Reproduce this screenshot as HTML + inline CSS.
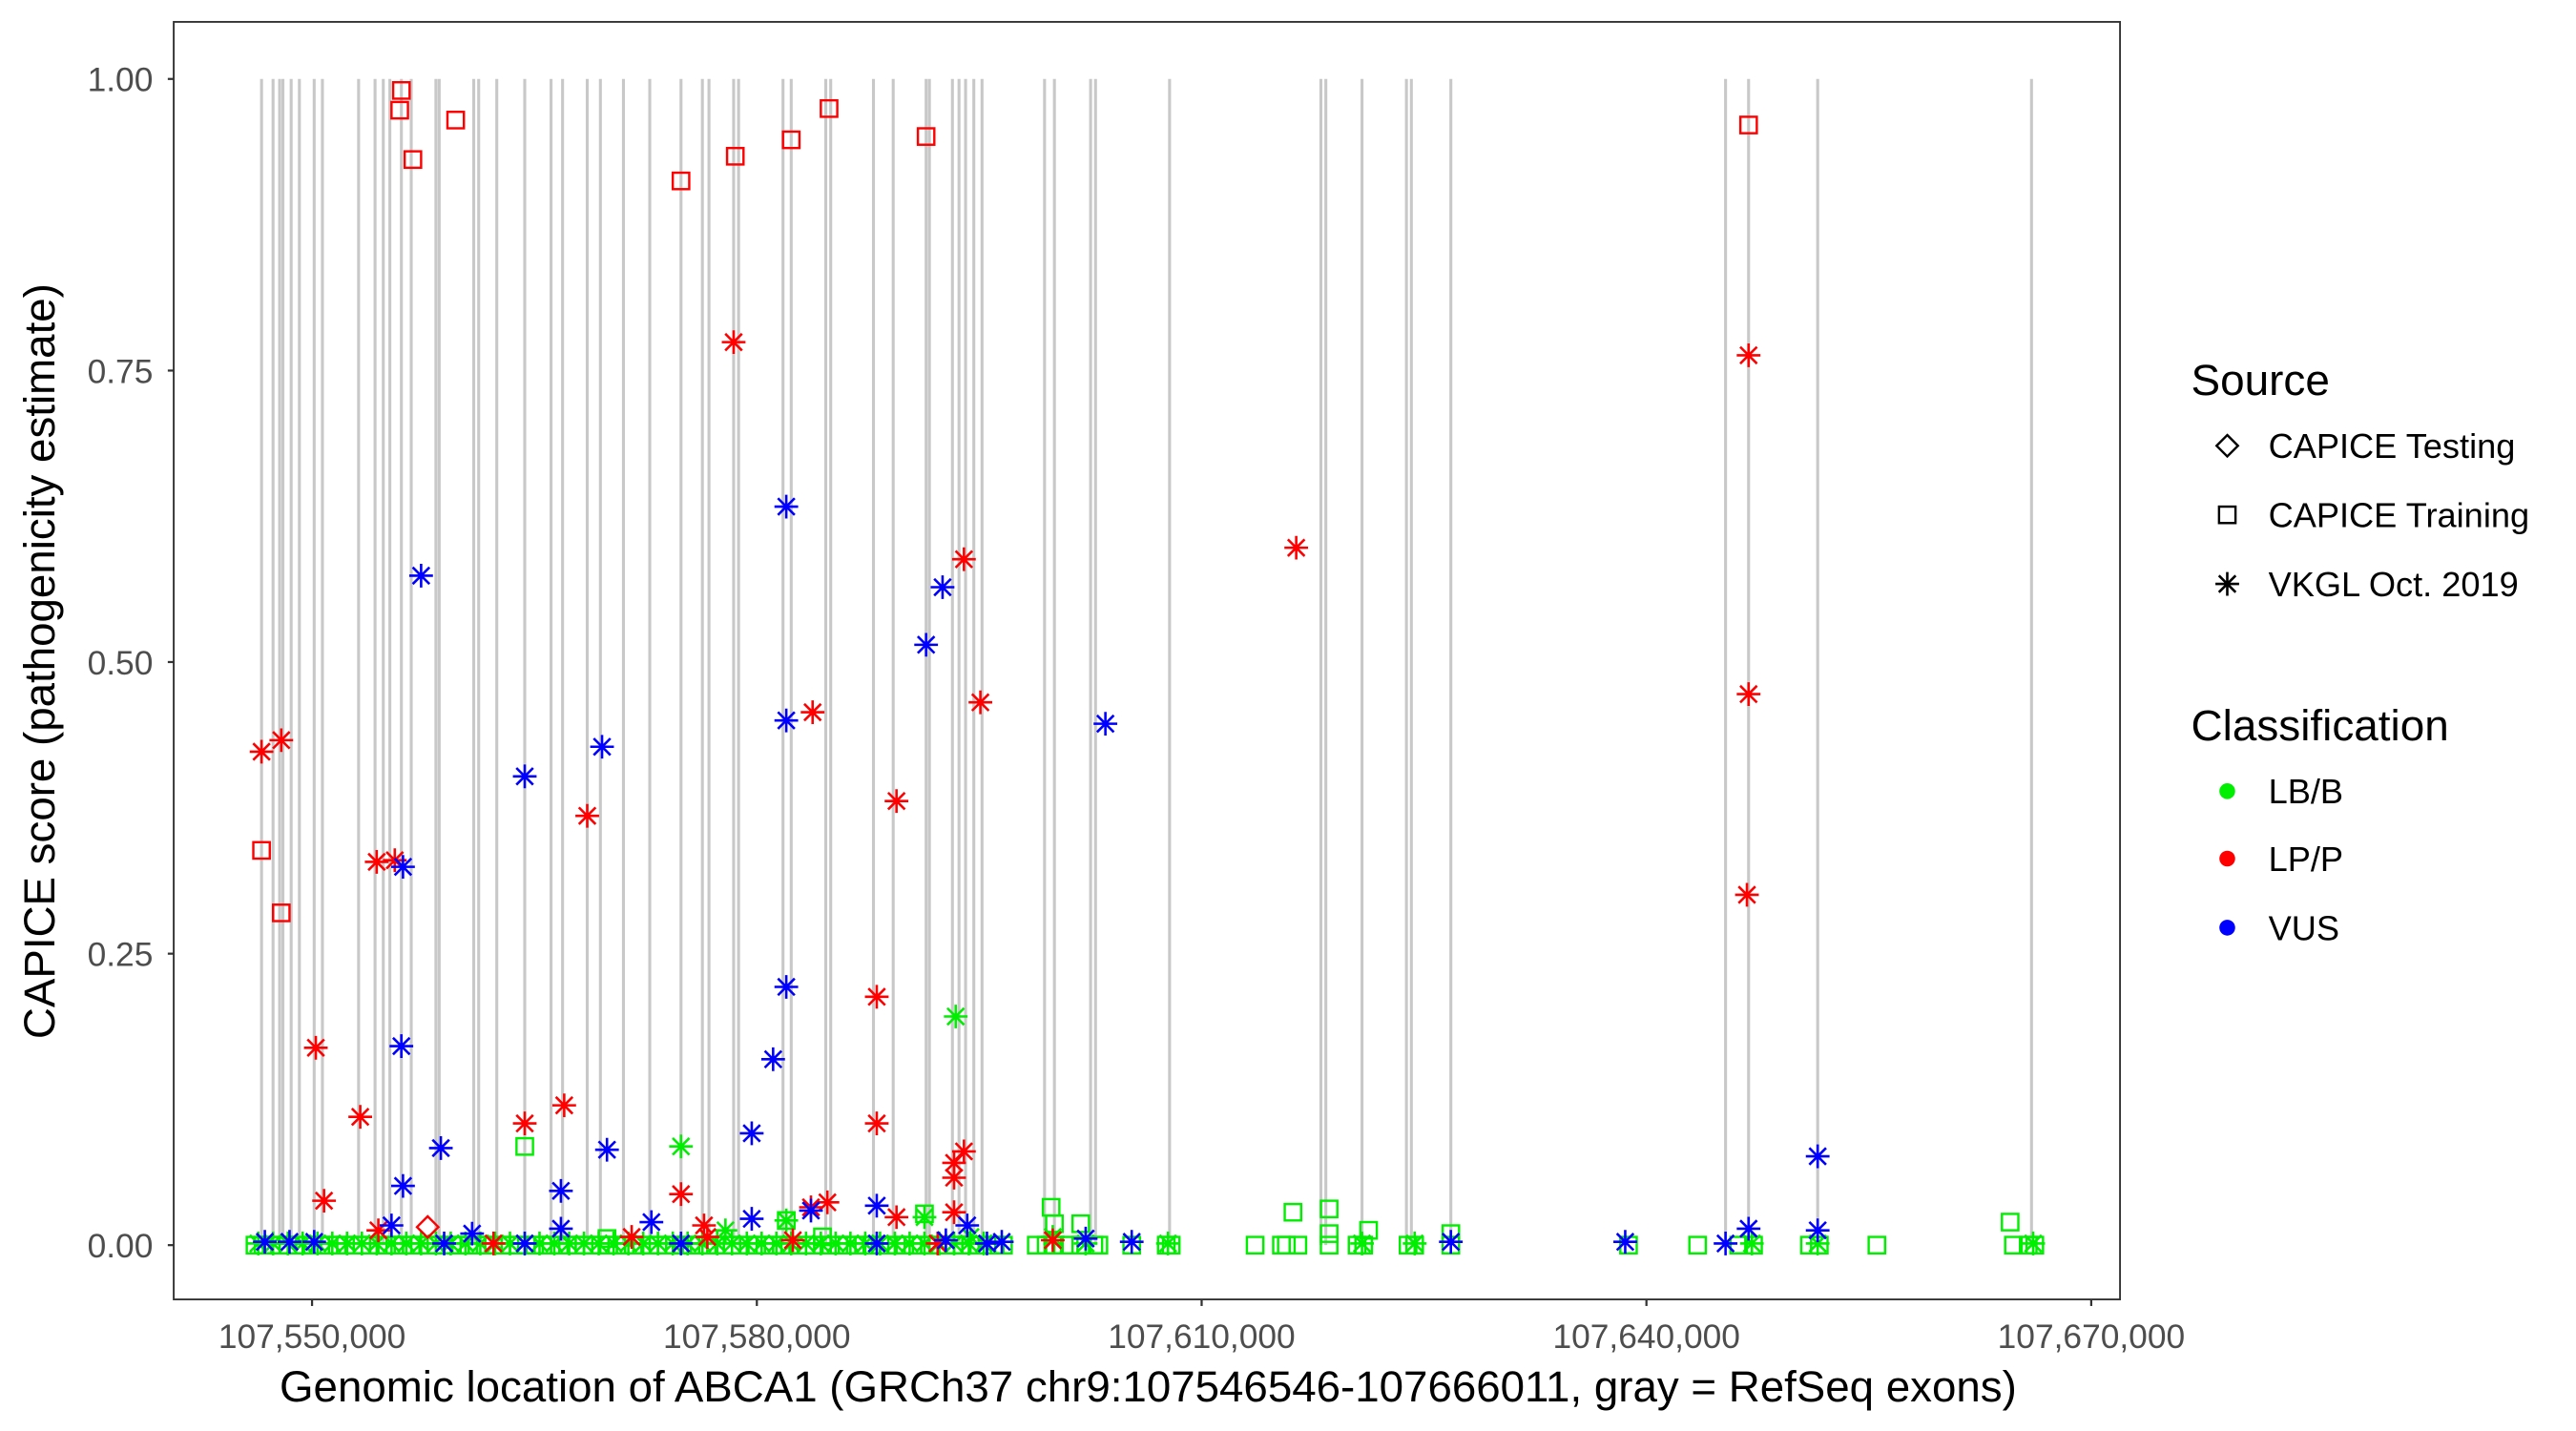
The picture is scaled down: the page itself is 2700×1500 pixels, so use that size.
<!DOCTYPE html>
<html><head><meta charset="utf-8"><style>
html,body{margin:0;padding:0;background:#fff;}
svg{display:block;}
text{font-family:"Liberation Sans",Arial,sans-serif;}
</style></head><body>
<svg id="s" width="2700" height="1500" viewBox="0 0 1566 870" preserveAspectRatio="none" xmlns="http://www.w3.org/2000/svg">
<rect x="0" y="0" width="1566" height="870" fill="#fff"/>
<g id="exons"></g>
<g id="pts"></g>
<rect x="105.6" y="13.3" width="1183.2" height="776.7" fill="none" stroke="#333" stroke-width="1.1"/>
<g stroke="#333" stroke-width="1.3">
<line x1="102" y1="48" x2="105.6" y2="48"/><line x1="102" y1="225.3" x2="105.6" y2="225.3"/><line x1="102" y1="402.5" x2="105.6" y2="402.5"/><line x1="102" y1="579.8" x2="105.6" y2="579.8"/><line x1="102" y1="757" x2="105.6" y2="757"/>
<line x1="189.7" y1="790" x2="189.7" y2="794"/><line x1="460.1" y1="790" x2="460.1" y2="794"/><line x1="730.5" y1="790" x2="730.5" y2="794"/><line x1="1000.9" y1="790" x2="1000.9" y2="794"/><line x1="1271.3" y1="790" x2="1271.3" y2="794"/>
</g>
<g fill="#4d4d4d" font-size="20.5" text-anchor="end">
<text x="93" y="55.5">1.00</text><text x="93" y="232.8">0.75</text><text x="93" y="410">0.50</text><text x="93" y="587.3">0.25</text><text x="93" y="764.5">0.00</text>
</g>
<g fill="#4d4d4d" font-size="20.5" text-anchor="middle">
<text x="189.7" y="819.5">107,550,000</text><text x="460.1" y="819.5">107,580,000</text><text x="730.5" y="819.5">107,610,000</text><text x="1000.9" y="819.5">107,640,000</text><text x="1271.3" y="819.5">107,670,000</text>
</g>
<text x="698" y="852" font-size="26.5" text-anchor="middle" fill="#000">Genomic location of ABCA1 (GRCh37 chr9:107546546-107666011, gray = RefSeq exons)</text>
<text transform="translate(33,402) rotate(-90)" font-size="26.5" text-anchor="middle" fill="#000">CAPICE score (pathogenicity estimate)</text>
<g font-size="26.6" fill="#000"><text x="1332" y="240">Source</text><text x="1332" y="450">Classification</text></g>
<g font-size="21" fill="#000">
<text x="1379" y="278.5">CAPICE Testing</text><text x="1379" y="320.5">CAPICE Training</text><text x="1379" y="362.5">VKGL Oct. 2019</text>
<text x="1379" y="488.5">LB/B</text><text x="1379" y="529.5">LP/P</text><text x="1379" y="571.5">VUS</text>
</g>
<g id="leg"></g>
</svg>
<script>
var NS="http://www.w3.org/2000/svg";
function el(p,t,a){var e=document.createElementNS(NS,t);for(var k in a)e.setAttribute(k,a[k]);p.appendChild(e);return e;}
var ex=document.getElementById('exons');
[159,166,170,172,177,182,191,196,218,228,233,237,244,250,265,267,288,291,302,319,335,342,357,365,379,395,414,427,431,446,449,476,481,502,505,531,543,563,565,579,583,587,592,597,635,641,663,666,711,803,806,828,855,858,882,1049,1063,1105,1235].forEach(function(x){
 el(ex,'line',{x1:x,x2:x,y1:48,y2:757,stroke:'#c8c8c8','stroke-width':1.8});});
var P=document.getElementById('pts');
var C={g:'#00ee00',r:'#ff0000',b:'#0000ff',k:'#000'};
function sq(g,x,y,c){el(g,'rect',{x:x-5,y:y-5,width:10,height:10,fill:'none',stroke:c,'stroke-width':1.4});}
function di(g,x,y,c){el(g,'path',{d:'M'+x+' '+(y-6.5)+'L'+(x+6.5)+' '+y+'L'+x+' '+(y+6.5)+'L'+(x-6.5)+' '+y+'Z',fill:'none',stroke:c,'stroke-width':1.4});}
function as(g,x,y,c){var r=7.2,d='';for(var i=0;i<4;i++){var a=i*Math.PI/4;d+='M'+(x-r*Math.sin(a))+' '+(y-r*Math.cos(a))+'L'+(x+r*Math.sin(a))+' '+(y+r*Math.cos(a));}
 el(g,'path',{d:d,stroke:c,'stroke-width':1.5,fill:'none'});}
for(var x=155;x<=610;x+=5){sq(P,x,757,C.g);}
for(var x=157;x<=605;x+=9){as(P,x,756,C.g);}
[630,636,641,650,657,665,668,688,709,712,763,779,782,789,808,825,829,856,860,882,990,1032,1057,1066,1100,1106,1141,1224,1233,1237].forEach(function(x){sq(P,x,757,C.g);});
[[319,697],[639,734],[657,744],[786,737],[808,735],[808,750],[832,748],[882,750],[1222,743],[641,744],[562,738],[369,753],[478,742],[500,752]].forEach(function(p){sq(P,p[0],p[1],C.g);});
[[581,618],[414,697],[562,740],[478,742],[441,748],[590,752],[640,752],[660,756],[710,756],[828,756],[860,756],[1105,756],[1065,756],[1236,756]].forEach(function(p){as(P,p[0],p[1],C.g);});
[[244,55],[243,67],[277,73],[251,97],[414,110],[447,95],[481,85],[504,66],[563,83],[1063,76],[159,517],[171,555]].forEach(function(p){sq(P,p[0],p[1],C.r);});
[[159,457],[171,450],[446,208],[1063,216],[788,333],[586,340],[596,427],[494,433],[1063,422],[545,487],[357,496],[229,524],[240,523],[192,637],[219,679],[319,683],[343,672],[533,606],[533,683],[580,707],[586,700],[580,716],[1062,544],[197,730],[414,726],[428,745],[493,734],[503,731],[580,737],[384,752],[230,748],[545,740],[300,756],[430,752],[482,754],[570,756],[640,754]].forEach(function(p){as(P,p[0],p[1],C.r);});
di(P,260,746,C.r);
[[256,350],[478,308],[573,357],[563,392],[672,440],[478,438],[366,454],[319,472],[245,527],[244,636],[478,600],[470,644],[457,689],[268,698],[369,699],[245,721],[341,724],[1105,703],[533,733],[396,743],[493,736],[588,745],[1063,747],[1105,748],[287,750],[341,747],[238,745],[457,741],[988,755],[688,755],[882,755],[660,753],[1049,756],[609,755],[176,755],[161,755],[191,755],[270,756],[319,756],[414,756],[533,756],[575,754],[600,756]].forEach(function(p){as(P,p[0],p[1],C.b);});
var L=document.getElementById('leg');
di(L,1354,271,C.k);sq(L,1354,313,C.k);as(L,1354,355,C.k);
el(L,'circle',{cx:1354,cy:481,r:4.8,fill:C.g});el(L,'circle',{cx:1354,cy:522,r:4.8,fill:C.r});el(L,'circle',{cx:1354,cy:564,r:4.8,fill:C.b});
</script>
</body></html>
